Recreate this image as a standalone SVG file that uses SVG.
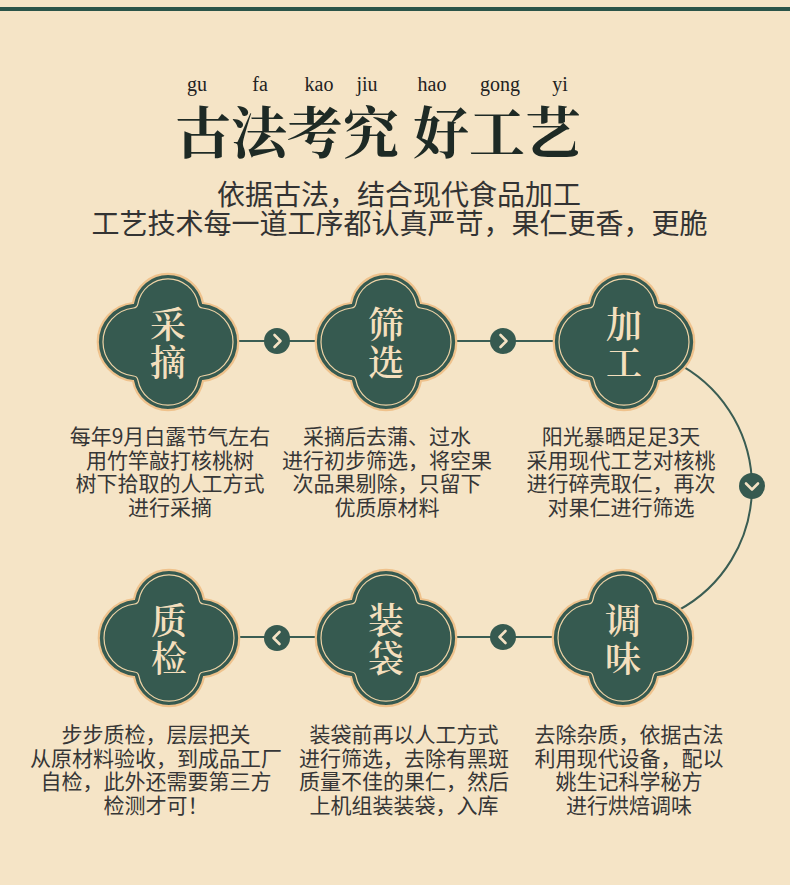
<svg xmlns="http://www.w3.org/2000/svg" width="790" height="885" viewBox="0 0 790 885">
  <defs>
    <style>
      .bg { fill: #f5e4c6; }
      .band { fill: #2b5448; }
      .py { font-family: "Liberation Serif", "DejaVu Serif", serif; font-size: 20px; fill: #222; text-anchor: middle; }
      .title { font-family: "Noto Serif CJK SC", "Noto Sans CJK SC", sans-serif; font-size: 56px; font-weight: 700; fill: #1e2a25; }
      .sub { font-family: "Noto Sans CJK SC", sans-serif; font-size: 28px; fill: #333; text-anchor: middle; }
      .desc { font-family: "Noto Sans CJK SC", sans-serif; font-size: 21px; fill: #363636; text-anchor: middle; }
      .lbl { font-family: "Noto Serif CJK SC", "Noto Sans CJK SC", sans-serif; font-size: 36px; font-weight: 600; fill: #f4dfbd; text-anchor: middle; }
      .shape { fill: #365a50; stroke: #efc28c; stroke-width: 2.2; }
      .inner { fill: none; stroke: #eed3a6; stroke-width: 1.2; }
      .line { fill: none; stroke: #3a5d53; stroke-width: 2; }
      .dot { fill: #365a50; }
      .chev { fill: none; stroke: #f4e2c4; stroke-width: 2.6; stroke-linecap: round; stroke-linejoin: round; }
    </style>
    <path id="quad" class="shape" d="M -35 -39 A 35.6 35.6 0 0 1 35 -39 A 39.2 39.2 0 0 1 35 39 A 35.6 35.6 0 0 1 -35 39 A 39.2 39.2 0 0 1 -35 -39 Z"/>
    <path id="quadIn" class="inner" d="M -30.1 -38.1 A 30.6 30.6 0 0 1 30.1 -38.1 A 5 5 0 0 0 34.5 -34 A 34.2 34.2 0 0 1 34.5 34 A 5 5 0 0 0 30.1 38.1 A 30.6 30.6 0 0 1 -30.1 38.1 A 5 5 0 0 0 -34.5 34 A 34.2 34.2 0 0 1 -34.5 -34 A 5 5 0 0 0 -30.1 -38.1 Z"/>
  </defs>

  <rect class="bg" x="0" y="0" width="790" height="885"/>
  <rect class="band" x="0" y="7" width="790" height="4"/>

  <g id="header">
    <text class="py" x="197" y="91">gu</text>
    <text class="py" x="260" y="91">fa</text>
    <text class="py" x="319" y="91">kao</text>
    <text class="py" x="367" y="91">jiu</text>
    <text class="py" x="432" y="91">hao</text>
    <text class="py" x="500" y="91">gong</text>
    <text class="py" x="560" y="91">yi</text>
    <text class="title" x="175" y="153">古法考究</text>
    <text class="title" x="413" y="153">好工艺</text>
    <text class="sub" x="399" y="205">依据古法，结合现代食品加工</text>
    <text class="sub" x="399.5" y="234">工艺技术每一道工序都认真严苛，果仁更香，更脆</text>
  </g>

  <g id="connectors">
    <line class="line" x1="168" y1="341" x2="624" y2="341"/>
    <line class="line" x1="168" y1="637" x2="624" y2="637"/>
    <path class="line" d="M 682 365.8 A 140 140 0 0 1 677.7 610.6"/>
    <g transform="translate(277,341)"><circle class="dot" r="13"/><path class="chev" d="M -2.5 -6 L 3.5 0 L -2.5 6"/></g>
    <g transform="translate(503,341)"><circle class="dot" r="13"/><path class="chev" d="M -2.5 -6 L 3.5 0 L -2.5 6"/></g>
    <g transform="translate(752,486)"><circle class="dot" r="13"/><path class="chev" d="M -6 -2.5 L 0 3.5 L 6 -2.5"/></g>
    <g transform="translate(503,637)"><circle class="dot" r="13"/><path class="chev" d="M 2.5 -6 L -3.5 0 L 2.5 6"/></g>
    <g transform="translate(277,638)"><circle class="dot" r="13"/><path class="chev" d="M 2.5 -6 L -3.5 0 L 2.5 6"/></g>
  </g>

  <g id="node-caizhai">
    <use href="#quad" x="168" y="342"/>
    <use href="#quadIn" x="168" y="342"/>
    <text class="lbl" x="168" y="337.5">采</text>
    <text class="lbl" x="168" y="375.5">摘</text>
    <text class="desc"><tspan x="170" y="444">每年9月白露节气左右</tspan><tspan x="170" y="467.7">用竹竿敲打核桃树</tspan><tspan x="170" y="491.4">树下拾取的人工方式</tspan><tspan x="170" y="515.1">进行采摘</tspan></text>
  </g>

  <g id="node-shaixuan1">
    <use href="#quad" x="386" y="342"/>
    <use href="#quadIn" x="386" y="342"/>
    <text class="lbl" x="386" y="337.5">筛</text>
    <text class="lbl" x="386" y="375.5">选</text>
    <text class="desc"><tspan x="387" y="444">采摘后去蒲、过水</tspan><tspan x="387" y="467.7">进行初步筛选，将空果</tspan><tspan x="387" y="491.4">次品果剔除，只留下</tspan><tspan x="387" y="515.1">优质原材料</tspan></text>
  </g>

  <g id="node-jiagong">
    <use href="#quad" x="624" y="342"/>
    <use href="#quadIn" x="624" y="342"/>
    <text class="lbl" x="624" y="337.5">加</text>
    <text class="lbl" x="624" y="375.5">工</text>
    <text class="desc"><tspan x="621" y="444">阳光暴晒足足3天</tspan><tspan x="621" y="467.7">采用现代工艺对核桃</tspan><tspan x="621" y="491.4">进行碎壳取仁，再次</tspan><tspan x="621" y="515.1">对果仁进行筛选</tspan></text>
  </g>

  <g id="node-tiaowei">
    <use href="#quad" x="623" y="638"/>
    <use href="#quadIn" x="623" y="638"/>
    <text class="lbl" x="623" y="633.5">调</text>
    <text class="lbl" x="623" y="671.5">味</text>
    <text class="desc"><tspan x="629" y="742">去除杂质，依据古法</tspan><tspan x="629" y="765.7">利用现代设备，配以</tspan><tspan x="629" y="789.4">姚生记科学秘方</tspan><tspan x="629" y="813.1">进行烘焙调味</tspan></text>
  </g>

  <g id="node-zhuangdai">
    <use href="#quad" x="386" y="638"/>
    <use href="#quadIn" x="386" y="638"/>
    <text class="lbl" x="386" y="633.5">装</text>
    <text class="lbl" x="386" y="671.5">袋</text>
    <text class="desc"><tspan x="404" y="742">装袋前再以人工方式</tspan><tspan x="404" y="765.7">进行筛选，去除有黑斑</tspan><tspan x="404" y="789.4">质量不佳的果仁，然后</tspan><tspan x="404" y="813.1">上机组装装袋，入库</tspan></text>
  </g>

  <g id="node-zhijian">
    <use href="#quad" x="169" y="638"/>
    <use href="#quadIn" x="169" y="638"/>
    <text class="lbl" x="169" y="633.5">质</text>
    <text class="lbl" x="169" y="671.5">检</text>
    <text class="desc"><tspan x="156" y="742">步步质检，层层把关</tspan><tspan x="156" y="765.7">从原材料验收，到成品工厂</tspan><tspan x="156" y="789.4">自检，此外还需要第三方</tspan><tspan x="156" y="813.1">检测才可！</tspan></text>
  </g>
</svg>
